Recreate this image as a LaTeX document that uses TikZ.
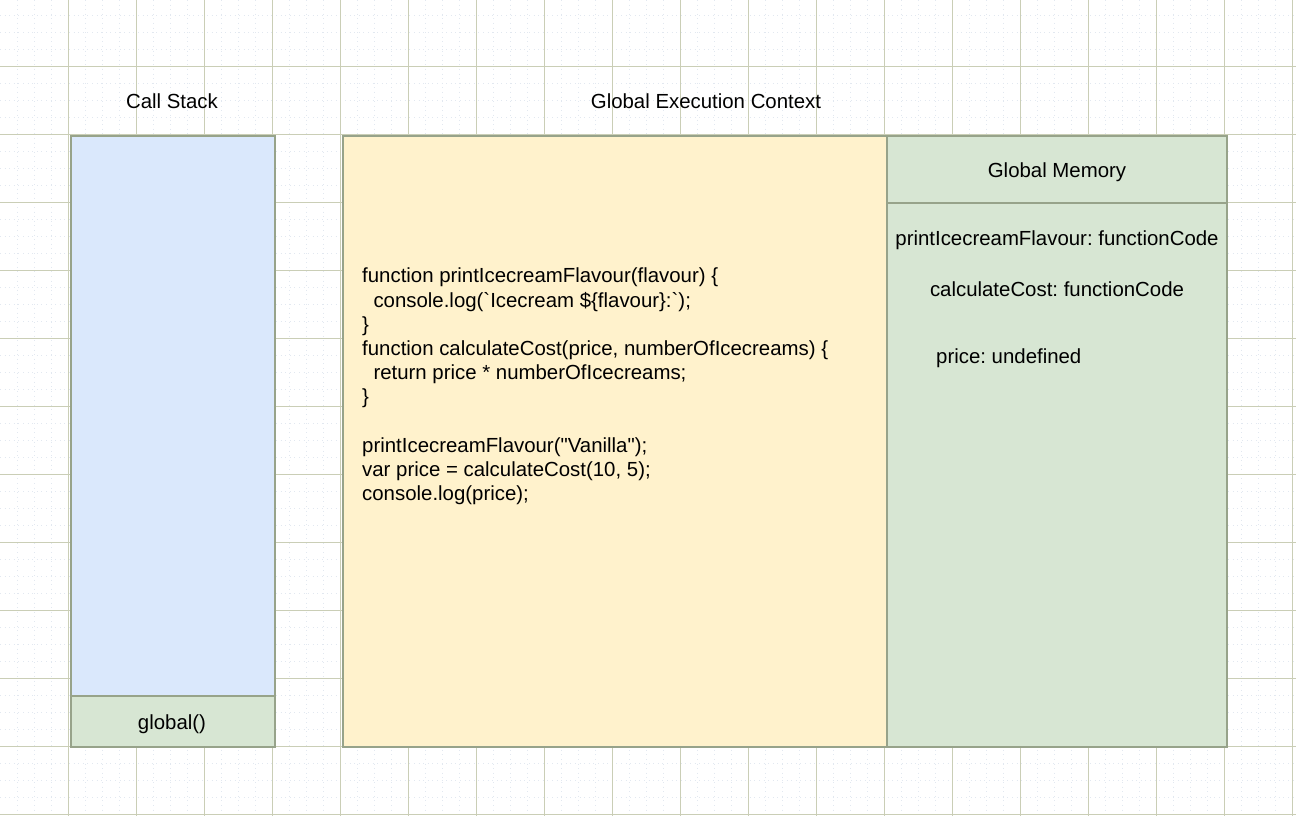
\documentclass[tikz,border=0pt]{standalone}
\usepackage{fontspec}
\setmainfont{Liberation Sans}
\frenchspacing
\definecolor{gridmajor}{HTML}{CACEB6}
\definecolor{gridminor}{HTML}{E2E8F0}
\definecolor{boxline}{HTML}{97A38A}
\definecolor{stackblue}{HTML}{DAE8FC}
\definecolor{memgreen}{HTML}{D7E6D3}
\definecolor{codeyellow}{HTML}{FFF2CC}
\begin{document}
\begin{tikzpicture}[x=1pt,y=-1pt,
		panel/.style={draw=boxline,line width=1.8pt},
		lbl/.style={font=\fontsize{20.4}{24.2}\selectfont,inner sep=0pt,anchor=base}]
		\useasboundingbox (0,0) rectangle (1296,816);
		\fill[white] (0,0) rectangle (1296,816);
		%
		\foreach \x in {17,34,...,1292} \draw[gridminor,loosely dotted,line width=0.6pt] (\x,0) -- (\x,816);
		\foreach \y in {15,32,...,815} \draw[gridminor,loosely dotted,line width=0.6pt] (0,\y) -- (1296,\y);
		\foreach \x in {68,136,...,1292} \draw[gridmajor,line width=0.9pt] (\x,0) -- (\x,816);
		\foreach \y in {66,134,...,814} \draw[gridmajor,line width=0.9pt] (0,\y) -- (1296,\y);
		%
		\draw[panel,fill=stackblue] (71,136) rectangle (275,747);
		\draw[panel,fill=memgreen] (71,696) rectangle (275,747);
		\draw[panel,fill=codeyellow] (343,136) rectangle (887,747);
		\draw[panel,fill=memgreen] (887,136) rectangle (1227,747);
		\draw[panel] (887,203) -- (1227,203);
		%
		\node[lbl] (cs) at (172,108) {Call Stack};
		\node[lbl] (gec) at (706,108) {Global Execution Context};
		\node[lbl] (glob) at (172,729) {global()};
		\node[lbl] (gm) at (1057,177) {Global Memory};
		%
		\node[lbl] (mfl) at (1057,245) {printIcecreamFlavour: functionCode};
		\node[lbl] (mcc) at (1057,296) {calculateCost: functionCode};
		\node[lbl,anchor=base west] (mpr) at (936,363) {price: undefined};
		%
		\node[lbl,anchor=north west,align=left] (code) at (362,268) {%
			function printIcecreamFlavour(flavour) \{\\
			\hspace*{11.3pt}console.log(\textasciigrave Icecream \$\{flavour\}:\textasciigrave);\\
			\}\\
			function calculateCost(price, numberOfIcecreams) \{\\
			\hspace*{11.3pt}return price * numberOfIcecreams;\\
			\}\\
			\mbox{}\\
			printIcecreamFlavour(\textquotedbl Vanilla\textquotedbl);\\
			var price = calculateCost(10, 5);\\
			console.log(price);};
		%
\end{tikzpicture}
\end{document}
